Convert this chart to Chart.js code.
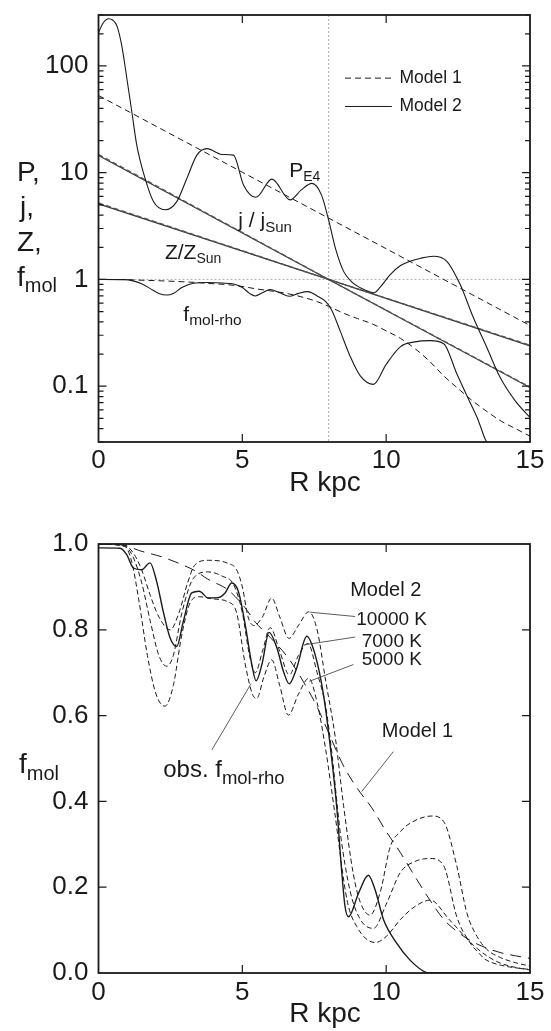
<!DOCTYPE html>
<html>
<head>
<meta charset="utf-8">
<script src="https://cdn.jsdelivr.net/npm/chart.js@4.4.1/dist/chart.umd.min.js"></script>
<style>
  html, body { margin: 0; padding: 0; background: #fff; }
  #wrap { position: relative; width: 551px; height: 1031px; }
  canvas { position: absolute; left: 0; }
  #top { top: 0; }
  #bottom { top: 515px; }
</style>
</head>
<body>
<div id="wrap">
  <canvas id="top" width="551" height="515"></canvas>
  <canvas id="bottom" width="551" height="516"></canvas>
</div>
<script>
// ---- upper panel: P, j, Z, f_mol vs R (log) ----
const rPressureM2 = [0, 0.15, 0.35, 0.5, 0.64, 0.81, 0.99, 1.16, 1.33, 1.62, 1.91, 2.32, 2.72, 3.07, 3.42, 3.77, 4.29, 4.69, 5.04, 5.47, 6.03, 6.66, 7.05, 7.42, 7.75, 8.0, 8.25, 8.52, 8.8, 9.1, 9.4, 9.58, 9.8, 10.14, 10.5, 10.83, 11.2, 11.64, 12.11, 12.57, 13.03, 13.5, 13.96, 14.5, 15];
const pressureM2 = [205, 250, 277, 268, 237, 154, 75, 37, 18.1, 8.83, 5.36, 4.49, 5.36, 8.83, 14.6, 16.8, 14.8, 14.6, 7.67, 5.88, 8.71, 5.56, 6.9, 7.94, 6.2, 3.6, 1.9, 1.19, 0.95, 0.835, 0.77, 0.75, 0.85, 1.11, 1.35, 1.48, 1.58, 1.65, 1.48, 0.9, 0.44, 0.23, 0.121, 0.072, 0.051];
const rPressureM1 = [0, 5, 10, 15];
const pressureM1 = [52.8, 10.1, 1.94, 0.37];

const rGradient = [0, 8, 15];
const emissM1 = [14.8, 1.0, 0.098];
const emissM2 = [14.5, 1.0, 0.097];
const metalM1 = [5.2, 1.0, 0.242];
const metalM2 = [5.1, 1.0, 0.238];

const logTicks = [0.1, 1, 10, 100];
const rTicks = [0, 5, 10, 15];
const sunR = 8;

// ---- molecular fraction curves (shared by both panels) ----
const rModel1 = [0, 0.9, 1.4, 2.2, 2.9, 3.4, 3.8, 4.5, 5.1, 5.45, 6.0, 6.6, 7.2, 7.6, 8.0, 8.5, 9.0, 9.5, 10.0, 10.5, 11.0, 11.5, 12.0, 12.5, 13.0, 13.5, 14.0, 14.5, 15];
const fmolModel1 = [1.0, 0.997, 0.985, 0.97, 0.952, 0.936, 0.918, 0.893, 0.851, 0.818, 0.78, 0.734, 0.67, 0.62, 0.56, 0.485, 0.43, 0.385, 0.33, 0.28, 0.225, 0.172, 0.125, 0.095, 0.073, 0.058, 0.047, 0.04, 0.034];

const r10000 = [0, 0.9, 1.2, 1.5, 1.8, 2.1, 2.49, 2.8, 3.1, 3.36, 3.82, 4.5, 4.8, 5.0, 5.2, 5.4, 5.7, 6.02, 6.3, 6.62, 6.95, 7.31, 7.6, 7.9, 8.23, 8.52, 8.86, 9.1, 9.44, 9.8, 10.14, 10.5, 10.83, 11.59, 12.0, 12.46, 12.81, 13.16, 13.5, 13.97, 14.5, 15];
const fmol10000 = [1.0, 0.997, 0.98, 0.94, 0.88, 0.83, 0.80, 0.84, 0.91, 0.952, 0.962, 0.955, 0.94, 0.90, 0.83, 0.81, 0.83, 0.874, 0.83, 0.78, 0.81, 0.842, 0.80, 0.68, 0.55, 0.39, 0.23, 0.165, 0.135, 0.19, 0.294, 0.33, 0.349, 0.366, 0.353, 0.248, 0.139, 0.085, 0.055, 0.036, 0.024, 0.016];

const r7000 = [0, 0.9, 1.2, 1.5, 1.8, 2.1, 2.37, 2.6, 2.9, 3.3, 3.8, 4.3, 4.7, 5.0, 5.25, 5.45, 5.7, 5.97, 6.3, 6.63, 6.95, 7.28, 7.6, 7.9, 8.1, 8.4, 8.75, 9.1, 9.56, 10.0, 10.5, 11.0, 11.53, 12.0, 12.46, 12.92, 13.2, 13.44, 14.0, 15];
const fmol7000 = [1.0, 0.995, 0.97, 0.91, 0.82, 0.74, 0.715, 0.74, 0.84, 0.92, 0.935, 0.925, 0.905, 0.84, 0.74, 0.70, 0.75, 0.805, 0.75, 0.695, 0.74, 0.768, 0.70, 0.62, 0.52, 0.33, 0.19, 0.125, 0.104, 0.16, 0.235, 0.26, 0.267, 0.25, 0.13, 0.07, 0.048, 0.032, 0.018, 0.008];

const r5000 = [0, 0.9, 1.15, 1.4, 1.7, 2.0, 2.31, 2.6, 2.9, 3.2, 3.5, 4.0, 4.5, 4.8, 5.1, 5.35, 5.5, 5.75, 6.02, 6.3, 6.6, 6.95, 7.31, 7.6, 7.9, 8.2, 8.64, 8.98, 9.62, 10.0, 10.5, 11.0, 11.53, 12.2, 13.03, 13.5, 13.97, 14.5, 15];
const fmol5000 = [1.0, 0.995, 0.96, 0.87, 0.74, 0.65, 0.622, 0.67, 0.79, 0.865, 0.877, 0.872, 0.865, 0.84, 0.72, 0.65, 0.64, 0.69, 0.73, 0.67, 0.601, 0.65, 0.687, 0.63, 0.52, 0.38, 0.17, 0.108, 0.071, 0.085, 0.125, 0.155, 0.17, 0.124, 0.065, 0.04, 0.023, 0.013, 0.007];

const rObs = [0, 0.75, 0.98, 1.21, 1.5, 1.79, 2.02, 2.25, 2.49, 2.72, 2.95, 3.24, 3.5, 3.82, 4.16, 4.4, 4.63, 4.86, 5.1, 5.33, 5.48, 5.68, 5.93, 6.2, 6.43, 6.63, 6.89, 7.24, 7.53, 7.82, 8.05, 8.28, 8.46, 8.57, 8.69, 9.04, 9.38, 9.62, 9.91, 10.37, 10.83, 11.36, 11.5, 15];
const fmolObs = [0.991, 0.99, 0.975, 0.944, 0.94, 0.956, 0.913, 0.843, 0.781, 0.761, 0.82, 0.886, 0.89, 0.874, 0.875, 0.886, 0.909, 0.89, 0.812, 0.719, 0.681, 0.719, 0.794, 0.758, 0.703, 0.674, 0.711, 0.785, 0.742, 0.649, 0.532, 0.388, 0.232, 0.155, 0.131, 0.186, 0.228, 0.193, 0.124, 0.069, 0.03, 0.002, 0, 0];

const linTicks = [0, 0.2, 0.4, 0.6, 0.8, 1.0];

const ink = '#1a1a1a';
const family = '"Liberation Sans", Arial, Helvetica, sans-serif';

const pts = (xs, ys) => xs.map((x, i) => ({ x, y: ys[i] }));

function curve(xs, ys, dash, width, color, straight) {
  return {
    data: pts(xs, ys),
    borderColor: color || ink,
    borderWidth: width || 1.1,
    borderDash: dash || [],
    pointRadius: 0,
    fill: false,
    tension: 0,
    cubicInterpolationMode: straight ? 'default' : 'monotone'
  };
}

function subLabel(ctx, x, y, main, sub, size, subSize, drop) {
  ctx.font = `${size}px ${family}`;
  ctx.textAlign = 'left';
  ctx.textBaseline = 'alphabetic';
  ctx.fillText(main, x, y);
  const w = ctx.measureText(main).width;
  ctx.font = `${subSize}px ${family}`;
  ctx.fillText(sub, x + w, y + drop);
}

function plainLabel(ctx, s, x, y, size, base) {
  ctx.font = `${size}px ${family}`;
  ctx.textAlign = 'left';
  ctx.textBaseline = base || 'middle';
  ctx.fillText(s, x, y);
}

function frameAndTicks(chart, yMajor, yMinor) {
  const { ctx, chartArea: a, scales: { x, y } } = chart;
  ctx.save();
  ctx.strokeStyle = ink;
  ctx.lineWidth = 1.2;
  ctx.beginPath();
  rTicks.slice(1, -1).forEach(v => {
    const px = x.getPixelForValue(v);
    ctx.moveTo(px, a.top); ctx.lineTo(px, a.top + 8);
    ctx.moveTo(px, a.bottom); ctx.lineTo(px, a.bottom - 8);
  });
  const mark = (v, len) => {
    const py = y.getPixelForValue(v);
    ctx.moveTo(a.left, py); ctx.lineTo(a.left + len, py);
    ctx.moveTo(a.right, py); ctx.lineTo(a.right - len, py);
  };
  yMajor.forEach(v => mark(v, 8));
  yMinor.forEach(v => mark(v, 5));
  ctx.stroke();
  ctx.lineWidth = 1.8;
  ctx.strokeRect(a.left, a.top, a.right - a.left, a.bottom - a.top);
  ctx.restore();
}

function axisCommon(size) {
  return {
    grid: { display: false },
    border: { display: false },
    ticks: { color: ink, font: { family, size, lineHeight: 1 }, maxRotation: 0, autoSkip: false }
  };
}

// minor ticks for the log axis: 2..9 x 10^k inside the range
const logMinor = [];
[0.01, 0.1, 1, 10, 100].forEach(d => {
  for (let m = 2; m <= 9; m++) {
    const v = m * d;
    if (v >= 0.03 && v <= 300) logMinor.push(v);
  }
});

const topDecor = {
  id: 'topDecor',
  beforeDatasetsDraw(chart) {
    const { ctx, chartArea: a, scales: { x, y } } = chart;
    ctx.save();
    ctx.strokeStyle = '#9a9a9a';
    ctx.lineWidth = 0.8;
    ctx.setLineDash([2, 2]);
    ctx.beginPath();
    const sx = x.getPixelForValue(sunR);
    ctx.moveTo(sx, a.top); ctx.lineTo(sx, a.bottom);
    const sy = y.getPixelForValue(1);
    ctx.moveTo(a.left, sy); ctx.lineTo(a.right, sy);
    ctx.stroke();
    ctx.restore();
  },
  afterDraw(chart) {
    const { ctx, scales: { x, y } } = chart;
    frameAndTicks(chart, logTicks, logMinor);
    ctx.save();
    ctx.fillStyle = ink;
    // curve labels
    subLabel(ctx, x.getPixelForValue(6.63), y.getPixelForValue(9.16), 'P', 'E4', 21, 14, 4);
    subLabel(ctx, x.getPixelForValue(4.86), y.getPixelForValue(3.07), 'j / j', 'Sun', 21, 15, 5);
    subLabel(ctx, x.getPixelForValue(2.31), y.getPixelForValue(1.54), 'Z/Z', 'Sun', 21, 14, 4);
    subLabel(ctx, x.getPixelForValue(2.95), y.getPixelForValue(0.409), 'f', 'mol-rho', 21, 15.5, 4);
    // legend
    const lx0 = x.getPixelForValue(8.57), lx1 = x.getPixelForValue(10.2), tx = x.getPixelForValue(10.46);
    const ly1 = y.getPixelForValue(76.9), ly2 = y.getPixelForValue(41.7);
    ctx.strokeStyle = ink;
    ctx.lineWidth = 1;
    ctx.setLineDash([6, 4]);
    ctx.beginPath(); ctx.moveTo(lx0, ly1); ctx.lineTo(lx1, ly1); ctx.stroke();
    ctx.setLineDash([]);
    ctx.beginPath(); ctx.moveTo(lx0, ly2); ctx.lineTo(lx1, ly2); ctx.stroke();
    plainLabel(ctx, 'Model 1', tx, ly1, 17.5);
    plainLabel(ctx, 'Model 2', tx, ly2, 17.5);
    // axis titles
    plainLabel(ctx, 'P,', 17, 181, 28, 'alphabetic');
    plainLabel(ctx, 'j,', 20, 216, 28, 'alphabetic');
    plainLabel(ctx, 'Z,', 17, 251, 28, 'alphabetic');
    subLabel(ctx, 17, 286, 'f', 'mol', 28, 20, 6);
    ctx.font = `28px ${family}`;
    ctx.textAlign = 'center';
    ctx.textBaseline = 'alphabetic';
    ctx.fillText('R kpc', 325, 491);
    ctx.restore();
  }
};

const bottomDecor = {
  id: 'bottomDecor',
  afterDraw(chart) {
    const { ctx, scales: { x, y } } = chart;
    frameAndTicks(chart, linTicks.slice(1, -1), []);
    ctx.save();
    ctx.fillStyle = ink;
    ctx.strokeStyle = '#333';
    ctx.lineWidth = 0.8;
    const lead = (r0, v0, r1, v1) => {
      ctx.beginPath();
      ctx.moveTo(x.getPixelForValue(r0), y.getPixelForValue(v0));
      ctx.lineTo(x.getPixelForValue(r1), y.getPixelForValue(v1));
      ctx.stroke();
    };
    lead(7.36, 0.841, 8.92, 0.831);
    lead(7.15, 0.765, 8.92, 0.783);
    lead(7.33, 0.680, 8.86, 0.719);
    lead(10.25, 0.516, 9.15, 0.423);
    lead(3.94, 0.52, 5.30, 0.674);
    plainLabel(ctx, 'Model 2', x.getPixelForValue(8.75), y.getPixelForValue(0.892), 20);
    plainLabel(ctx, '10000 K', x.getPixelForValue(8.96), y.getPixelForValue(0.824), 19);
    plainLabel(ctx, '7000 K', x.getPixelForValue(9.15), y.getPixelForValue(0.773), 19);
    plainLabel(ctx, '5000 K', x.getPixelForValue(9.15), y.getPixelForValue(0.730), 19);
    plainLabel(ctx, 'Model 1', x.getPixelForValue(9.85), y.getPixelForValue(0.562), 20);
    subLabel(ctx, x.getPixelForValue(2.25), y.getPixelForValue(0.458), 'obs. f', 'mol-rho', 24, 18.5, 7);
    subLabel(ctx, 19, 258, 'f', 'mol', 28, 20, 7);
    ctx.font = `28px ${family}`;
    ctx.textAlign = 'center';
    ctx.textBaseline = 'alphabetic';
    ctx.fillText('R kpc', 325, 507);
    ctx.restore();
  }
};

const xTop = Object.assign(axisCommon(26), {
  type: 'linear', min: 0, max: 15,
  afterBuildTicks: s => { s.ticks = rTicks.map(v => ({ value: v })); },
  afterFit: s => { s.height = 73; }
});
xTop.ticks.padding = -2;

const yTop = Object.assign(axisCommon(26), {
  type: 'logarithmic', min: 0.03, max: 300,
  afterBuildTicks: s => { s.ticks = logTicks.map(v => ({ value: v })); },
  afterFit: s => { s.width = 98.5; }
});
yTop.ticks.padding = 2;
yTop.ticks.callback = v => String(v);

new Chart(document.getElementById('top'), {
  type: 'line',
  data: {
    datasets: [
      curve(rPressureM1, pressureM1, [6, 4], 1, ink, true),
      curve(rPressureM2, pressureM2, [], 1.1),
      curve(rGradient, emissM1, [5, 3], 1.4, '#555', true),
      curve(rGradient, emissM2, [], 1.2, '#333', true),
      curve(rGradient, metalM1, [5, 3], 1.4, '#555', true),
      curve(rGradient, metalM2, [], 1.2, '#333', true),
      curve(rModel1, fmolModel1, [6, 4], 1),
      curve(r7000, fmol7000, [], 1.1)
    ]
  },
  options: {
    responsive: false,
    animation: false,
    devicePixelRatio: 1,
    layout: { padding: { top: 13, right: 21, left: 0, bottom: 0 } },
    plugins: { legend: { display: false }, tooltip: { enabled: false } },
    scales: { x: xTop, y: yTop }
  },
  plugins: [topDecor]
});

const xBot = Object.assign(axisCommon(26), {
  type: 'linear', min: 0, max: 15,
  afterBuildTicks: s => { s.ticks = rTicks.map(v => ({ value: v })); },
  afterFit: s => { s.height = 58; }
});
xBot.ticks.padding = -1;

const yBot = Object.assign(axisCommon(26), {
  type: 'linear', min: 0, max: 1,
  afterBuildTicks: s => { s.ticks = linTicks.map(v => ({ value: v })); },
  afterFit: s => { s.width = 98.5; }
});
yBot.ticks.padding = 2;
yBot.ticks.callback = v => v.toFixed(1);

new Chart(document.getElementById('bottom'), {
  type: 'line',
  data: {
    datasets: [
      curve(rModel1, fmolModel1, [11, 7], 1),
      curve(r10000, fmol10000, [5, 3], 1),
      curve(r7000, fmol7000, [5, 3], 1),
      curve(r5000, fmol5000, [5, 3], 1),
      curve(rObs, fmolObs, [], 1.4)
    ]
  },
  options: {
    responsive: false,
    animation: false,
    devicePixelRatio: 1,
    layout: { padding: { top: 29, right: 21, left: 0, bottom: 0 } },
    plugins: { legend: { display: false }, tooltip: { enabled: false } },
    scales: { x: xBot, y: yBot }
  },
  plugins: [bottomDecor]
});
</script>
</body>
</html>
